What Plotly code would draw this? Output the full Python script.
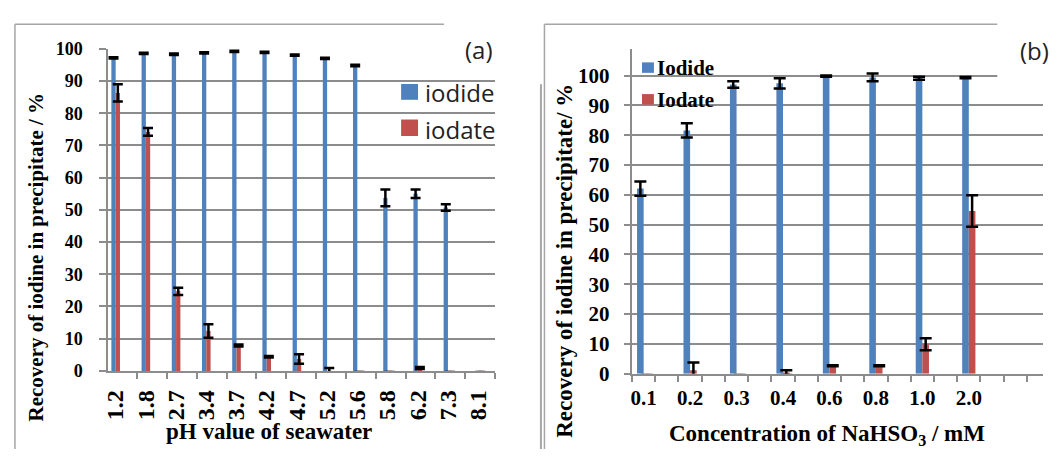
import plotly.graph_objects as go

W, H = 1057, 461

# (a) recovery vs. pH of seawater
ph_labels = ["1.2", "1.8", "2.7", "3.4", "3.7", "4.2", "4.7", "5.2", "5.6", "5.8", "6.2", "7.3", "8.1"]
iodide_ph = [97.2, 98.6, 98.3, 98.7, 99.2, 98.9, 98.0, 97.0, 94.8, 53.7, 55.0, 50.7, None]
iodide_ph_err = [0.2, 0.2, 0.2, 0.2, 0.2, 0.2, 0.2, 0.2, 0.2, 2.6, 1.3, 1.0, None]
iodate_ph = [86.3, 74.2, 24.7, 12.4, 7.9, 4.4, 3.7, -0.3, -0.3, -0.3, 0.9, -0.3, -0.3]
iodate_ph_err = [2.7, 1.2, 1.1, 2.1, 0.3, 0.2, 1.5, 1.2, None, None, 0.3, None, None]

# (b) recovery vs. NaHSO3 concentration
conc_labels = ["0.1", "0.2", "0.3", "0.4", "0.6", "0.8", "1.0", "2.0"]
iodide_conc = [62.1, 81.6, 97.0, 97.4, 99.8, 99.4, 99.1, 99.3]
iodide_conc_err = [2.4, 2.4, 1.1, 1.7, 0.2, 1.3, 0.5, 0.2]
iodate_conc = [-0.4, 1.2, -0.4, 0.4, 2.7, 2.7, 9.9, 54.6]
iodate_conc_err = [None, 2.6, None, 0.8, 0.2, 0.2, 2.0, 5.3]

# recovery axis ticks (%)
y_ticks = [0, 10, 20, 30, 40, 50, 60, 70, 80, 90, 100]

BLUE = "#4F81BD"
RED = "#C0504D"
GRID = "#8c8c8c"
FRAME = "#a6a6a6"
SERIF = "Liberation Serif"
SANS = "Open Sans"


def px(x):
    # page pixel -> paper fraction
    return x / W


def py(y):
    return 1 - y / H


def err(arr, cap):
    return dict(type="data", array=arr, symmetric=True, color="black",
                thickness=2.5, width=cap)


fig = go.Figure()
fig.add_trace(go.Bar(x=list(range(len(ph_labels))), y=iodide_ph, name="iodide",
                     marker=dict(color=BLUE, line=dict(width=0)),
                     error_y=err(iodide_ph_err, 5), xaxis="x", yaxis="y"))
fig.add_trace(go.Bar(x=list(range(len(ph_labels))), y=iodate_ph, name="iodate",
                     marker=dict(color=RED, line=dict(width=0)),
                     error_y=err(iodate_ph_err, 5), xaxis="x", yaxis="y"))
fig.add_trace(go.Bar(x=list(range(len(conc_labels))), y=iodide_conc, name="Iodide",
                     marker=dict(color=BLUE, line=dict(width=0)),
                     error_y=err(iodide_conc_err, 6), xaxis="x2", yaxis="y2"))
fig.add_trace(go.Bar(x=list(range(len(conc_labels))), y=iodate_conc, name="Iodate",
                     marker=dict(color=RED, line=dict(width=0)),
                     error_y=err(iodate_conc_err, 6), xaxis="x2", yaxis="y2"))


def tick_font(size):
    return dict(family=SERIF, size=size, color="black", weight="bold")


common_y = dict(ticks="outside", ticklen=6.5, tickwidth=1.5, tickcolor=GRID,
                showgrid=True, gridcolor=GRID, gridwidth=1.5,
                showline=True, linecolor=GRID, linewidth=1.5, zeroline=False,
                tickmode="array", tickvals=y_ticks)
common_x = dict(ticks="", showgrid=False, zeroline=False, showline=True,
                linecolor=GRID, linewidth=1.5, tickmode="array")

fig.update_layout(
    width=W, height=H, autosize=False, margin=dict(l=0, r=0, t=0, b=0),
    paper_bgcolor="white", plot_bgcolor="white",
    barmode="group", bargap=0.715, bargroupgap=0, showlegend=False,
    xaxis=dict(common_x, domain=[px(103), px(492.3)], range=[-0.270, 12.557],
               tickvals=list(range(len(ph_labels))), ticktext=ph_labels,
               tickangle=-90, tickfont=tick_font(24), ticklabelstandoff=8,
               minor=dict(ticks="outside", tickmode="linear", tick0=-0.280, dtick=0.9875,
                          ticklen=6, tickwidth=1.5, tickcolor=GRID, showgrid=False),
               anchor="y"),
    yaxis=dict(common_y, domain=[py(379), py(40.7)], range=[0, 100],
               tickfont=tick_font(18), ticklabelstandoff=13, anchor="x"),
    xaxis2=dict(common_x, domain=[px(630), px(1043)], range=[-0.2507, 8.599],
                tickvals=list(range(len(conc_labels))), ticktext=conc_labels,
                tickangle=0, tickfont=tick_font(21), ticklabelstandoff=4,
                minor=dict(ticks="outside", tickmode="linear", tick0=-0.25, dtick=0.5,
                           ticklen=6, tickwidth=1.5, tickcolor=GRID, showgrid=False),
                anchor="y2"),
    yaxis2=dict(common_y, domain=[py(382), py(40.7)], range=[0, 109],
                tickfont=tick_font(21), ticklabelstandoff=10, anchor="x2"),
)

shapes = []


def line(x0, y0, x1, y1, color=FRAME, w=1.5):
    shapes.append(dict(type="line", xref="paper", yref="paper",
                       x0=px(x0), y0=py(y0), x1=px(x1), y1=py(y1),
                       line=dict(color=color, width=w), layer="above"))


def rect(x0, y0, x1, y1, color):
    shapes.append(dict(type="rect", xref="paper", yref="paper",
                       x0=px(x0), y0=py(y0), x1=px(x1), y1=py(y1),
                       line=dict(width=0), fillcolor=color, layer="above"))


# white label boxes over the top-right corners of each chart
rect(441, 0, 537, 60, "white")
rect(997, 0, W, 80, "white")

# chart frames
line(10, 15, 441, 15)
line(10, 15, 10, H)
line(538.5, 78, 538.5, H, w=2)
line(542, 15, 997, 15)
line(542, 15, 542, H)

# legend swatches
rect(398, 77.7, 415, 94.3, BLUE)
rect(398, 115, 415, 132.3, RED)
rect(640, 55, 652, 66, BLUE)
rect(640, 88.3, 652, 99.3, RED)

fig.update_layout(shapes=shapes)

ann = []


def text(t, x, y, size, family, bold=False, angle=0, xanchor="center", color="black"):
    ann.append(dict(text=t, x=px(x), y=py(y), xref="paper", yref="paper",
                    showarrow=False, textangle=angle, xanchor=xanchor, yanchor="middle",
                    font=dict(family=family, size=size, color=color,
                              weight="bold" if bold else "normal")))


text("(a)", 476, 42, 24, SANS, color="#222222")
text("(b)", 1034, 43, 24, SANS, color="#222222")
text("iodide", 420, 87, 24, SANS, xanchor="left", color="#222222")
text("iodate", 420, 125, 24, SANS, xanchor="left", color="#222222")
text("Iodide", 653, 61, 21, SERIF, bold=True, xanchor="left")
text("Iodate", 653, 94, 21, SERIF, bold=True, xanchor="left")
text("Recovery of iodine in precipitate / %", 31, 259, 21, SERIF, bold=True, angle=-90)
text("pH value of seawater", 265, 443, 23, SERIF, bold=True)
text("Recovery of iodine in precipitate/ %", 562, 263, 23, SERIF, bold=True, angle=-90)
text("Concentration of NaHSO<sub>3</sub> / mM", 826, 446, 23, SERIF, bold=True)
fig.update_layout(annotations=ann)

fig.write_html("out.html")
